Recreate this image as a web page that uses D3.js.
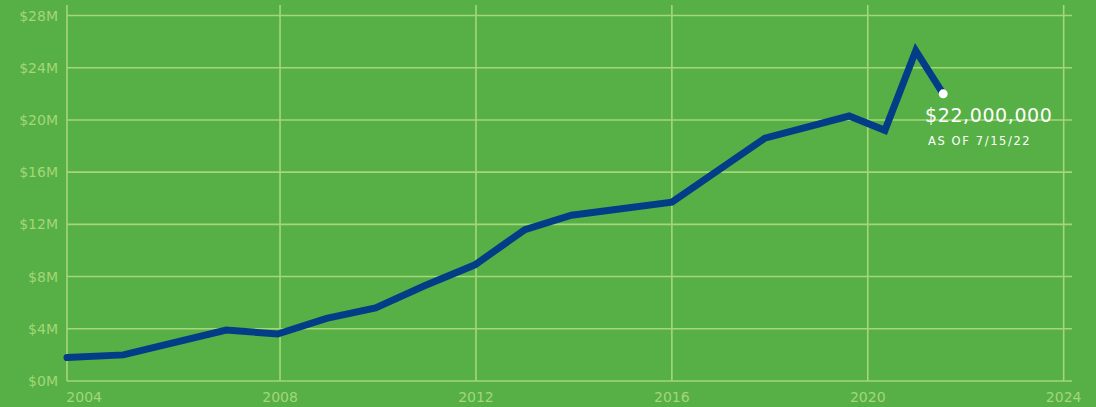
<!DOCTYPE html>
<html>
<head>
<meta charset="utf-8">
<script src="https://cdn.jsdelivr.net/npm/d3@7"></script>
<style>
  html, body { margin: 0; padding: 0; background: #56b046; }
  svg { display: block; }
  text { font-family: "DejaVu Sans", "Open Sans", sans-serif; }
</style>
</head>
<body>
<div id="chart"></div>
<script>
'use strict';

// values (year as decimal, amount in $M)
var years  = [2003.65, 2004.8, 2006.9, 2007.95, 2008.95, 2009.95, 2010.95, 2011.98, 2013.0, 2013.95, 2016.0, 2017.9, 2019.62, 2020.35, 2020.98, 2021.54];
var values = [1.8, 2.0, 3.9, 3.6, 4.8, 5.6, 7.3, 8.9, 11.6, 12.7, 13.7, 18.6, 20.3, 19.2, 25.3, 22.0];
var yTicks = [0, 4, 8, 12, 16, 20, 24, 28];
var xTicks = [2004, 2008, 2012, 2016, 2020, 2024];
var lastLabel = '$22,000,000';
var lastNote = 'AS OF 7/15/22';

var W = 1096, H = 407;
var GRID = '#a5d678';

$main();

function $main() {
    var svg = d3.select('#chart').append('svg')
        .attr('width', W)
        .attr('height', H);

    var x = d3.scaleLinear().domain([2003.65, 2024.17]).range([67, 1072]);
    var y = d3.scaleLinear().domain([0, 28]).range([381, 15.5]);

    // horizontal grid
    svg.append('g').selectAll('line')
        .data(yTicks)
        .join('line')
        .attr('x1', 67).attr('x2', 1072)
        .attr('y1', function(d){ return y(d); })
        .attr('y2', function(d){ return y(d); })
        .attr('stroke', GRID).attr('stroke-width', 1.6);

    // vertical grid (skip 2004, sits under the axis)
    svg.append('g').selectAll('line')
        .data(xTicks.slice(1))
        .join('line')
        .attr('x1', function(d){ return x(d); })
        .attr('x2', function(d){ return x(d); })
        .attr('y1', 5).attr('y2', y(0))
        .attr('stroke', GRID).attr('stroke-width', 1.6);

    // y axis line
    svg.append('line')
        .attr('x1', 67).attr('x2', 67)
        .attr('y1', 5).attr('y2', y(0))
        .attr('stroke', GRID).attr('stroke-width', 1.6);

    svg.append('g').selectAll('text')
        .data(yTicks)
        .join('text')
        .attr('x', 58)
        .attr('y', function(d){ return y(d) + 5; })
        .attr('text-anchor', 'end')
        .attr('fill', GRID)
        .style('font-size', '14px')
        .text(function(d){ return '$' + d + 'M'; });

    svg.append('g').selectAll('text')
        .data(xTicks)
        .join('text')
        .attr('x', function(d){ return x(d); })
        .attr('y', 402)
        .attr('text-anchor', 'middle')
        .attr('fill', GRID)
        .style('font-size', '14px')
        .text(function(d){ return d; });

    var line = d3.line()
        .x(function(d, i){ return x(years[i]); })
        .y(function(d){ return y(d); });

    svg.append('path')
        .datum(values)
        .attr('d', line)
        .attr('fill', 'none')
        .attr('stroke', '#033d88')
        .attr('stroke-width', 7)
        .attr('stroke-linejoin', 'miter')
        .attr('stroke-linecap', 'round');

    var n = values.length - 1;
    svg.append('circle')
        .attr('cx', x(years[n]))
        .attr('cy', y(values[n]))
        .attr('r', 4.5)
        .attr('fill', '#ffffff');

    svg.append('text')
        .attr('x', 925)
        .attr('y', 122)
        .attr('fill', '#ffffff')
        .style('font-size', '19px')
        .style('letter-spacing', '0.6px')
        .text(lastLabel);

    svg.append('text')
        .attr('x', 928)
        .attr('y', 144.5)
        .attr('fill', '#ffffff')
        .style('font-size', '11.5px')
        .style('letter-spacing', '1.6px')
        .text(lastNote);
}
</script>
</body>
</html>
